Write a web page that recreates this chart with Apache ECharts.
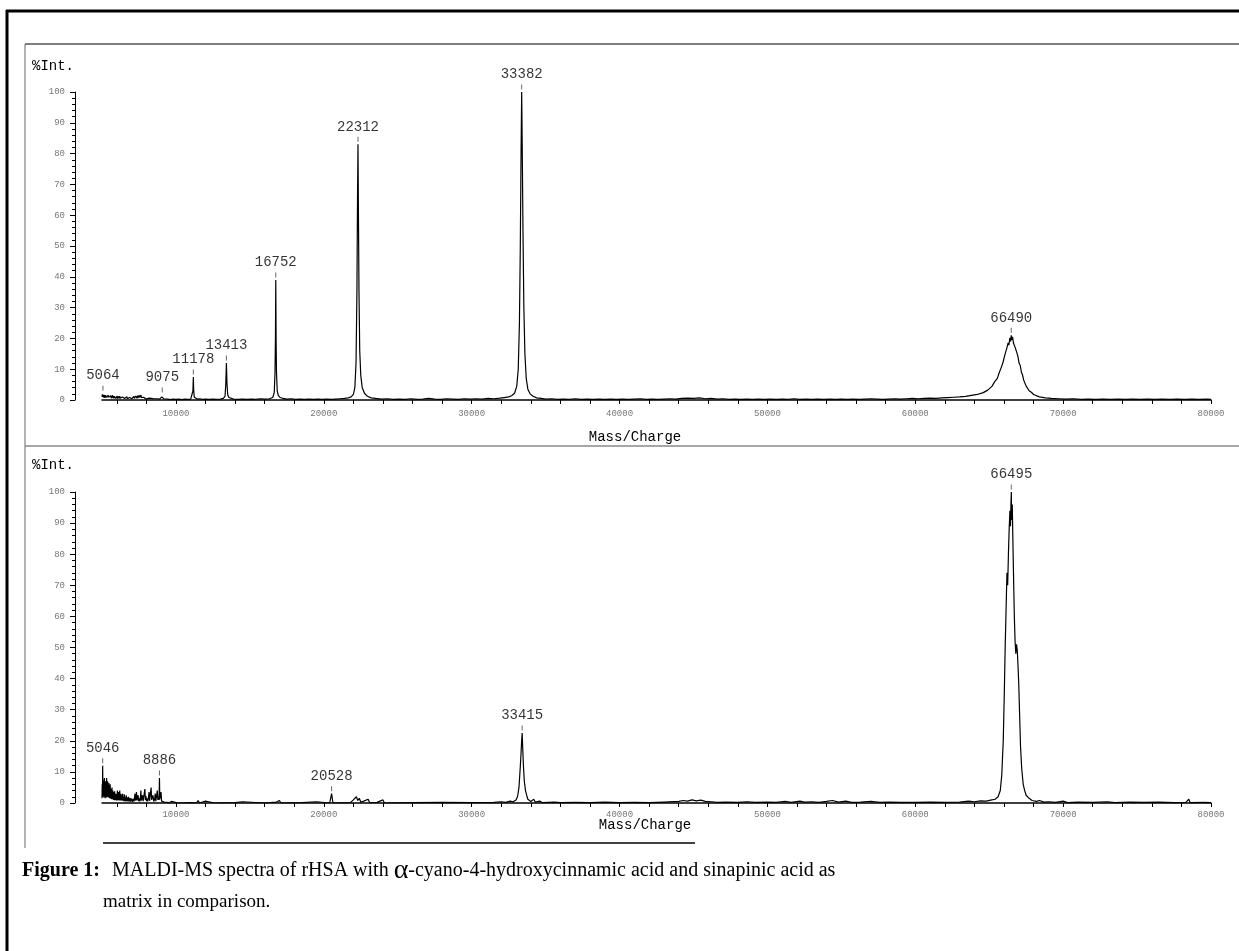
<!DOCTYPE html>
<html>
<head>
<meta charset="utf-8">
<script src="https://cdn.jsdelivr.net/npm/echarts@6/dist/echarts.min.js"></script>
<style>
html,body{margin:0;padding:0;background:#fff;}
#chart{width:1239px;height:951px;}
</style>
</head>
<body>
<div id="chart"></div>
<script>
// ---------------- DATA ----------------
// Top spectrum: alpha-cyano-4-hydroxycinnamic acid matrix  [m/z, %Int]
const topSpectrum = [
[5000,1.0],[5030,1.8],[5064,2.2],[5090,0.9],[5120,1.7],[5150,0.8],[5180,1.6],[5210,0.7],[5240,1.5],[5270,0.9],[5300,1.8],[5330,0.8],[5360,1.4],[5390,0.6],[5420,1.6],[5450,0.9],[5480,1.3],[5510,0.5],[5540,1.5],[5570,0.8],[5600,1.4],[5630,0.6],[5660,1.2],[5690,0.7],[5720,1.5],[5750,0.6],[5780,1.3],[5810,0.5],[5840,1.2],[5870,0.7],[5900,1.4],[5930,0.5],[5960,1.1],[5990,0.6],[6020,1.3],[6050,0.4],[6080,1.2],[6110,0.6],[6140,1.0],[6170,0.5],[6200,1.3],[6230,0.6],[6260,1.1],[6290,0.4],[6320,1.2],[6350,0.7],[6380,1.0],[6410,0.4],[6440,1.1],[6470,0.6],[6500,1.2],[6530,0.5],[6560,0.9],[6590,0.4],[6620,1.0],[6650,0.6],[6680,1.1],[6710,0.4],[6740,0.9],[6770,0.5],[6800,1.0],[6830,0.4],[6860,0.8],[6890,0.5],[6920,1.1],[6950,0.6],[6980,0.9],[7010,0.4],[7040,1.0],[7070,0.5],[7100,0.9],[7130,0.6],[7160,1.2],[7190,0.5],[7220,1.0],[7250,0.6],[7280,1.3],[7310,0.7],[7340,1.1],[7370,0.6],[7400,1.4],[7430,0.7],[7460,1.2],[7490,0.6],[7520,1.5],[7550,0.8],[7580,1.3],[7610,0.7],[7640,1.6],[7670,0.8],[7700,1.2],[7730,0.6],[7760,1.1],[7790,0.5],[7820,0.9],[7850,0.4],[7880,0.8],[7910,0.4],[7940,0.7],[7970,0.3],[8000,0.6],[8100,0.3],[8180,0.6],[8260,0.3],[8340,0.5],[8420,0.2],[8500,0.4],[8600,0.2],[8700,0.4],[8800,0.2],[8900,0.3],[9000,0.6],[9040,1.0],[9075,1.6],[9110,0.8],[9180,0.4],[9300,0.2],[9450,0.3],[9600,0.1],[9800,0.3],[10000,0.2],[10200,0.3],[10400,0.1],[10600,0.3],[10800,0.2],[11000,0.3],[11120,0.6],[11150,3.0],[11178,7.5],[11200,3.2],[11240,0.9],[11320,0.5],[11450,0.3],[11600,0.4],[11800,0.2],[12000,0.3],[12250,0.2],[12500,0.3],[12750,0.2],[13000,0.3],[13200,0.5],[13320,1.2],[13370,5.0],[13413,12.0],[13450,5.5],[13500,1.8],[13580,0.8],[13700,0.5],[13900,0.3],[14200,0.2],[14500,0.3],[14800,0.2],[15100,0.3],[15400,0.2],[15700,0.4],[16000,0.3],[16300,0.4],[16550,0.8],[16650,2.5],[16700,9.0],[16730,20.0],[16752,39.0],[16775,19.0],[16800,9.0],[16850,3.0],[16920,1.5],[17050,0.8],[17250,0.5],[17500,0.3],[17800,0.4],[18100,0.2],[18400,0.3],[18700,0.2],[19000,0.3],[19300,0.2],[19600,0.3],[19900,0.2],[20200,0.3],[20500,0.2],[20800,0.3],[21100,0.4],[21400,0.5],[21650,0.7],[21850,1.0],[22000,1.8],[22100,4.0],[22180,12.0],[22240,35.0],[22280,65.0],[22312,83.0],[22340,62.0],[22380,35.0],[22430,16.0],[22500,8.0],[22600,4.0],[22750,2.2],[22950,1.2],[23200,0.7],[23500,0.5],[23900,0.3],[24300,0.4],[24700,0.2],[25100,0.3],[25500,0.2],[25900,0.4],[26300,0.2],[26700,0.3],[27100,0.5],[27500,0.3],[27900,0.2],[28300,0.4],[28700,0.3],[29100,0.2],[29500,0.4],[29900,0.3],[30300,0.4],[30700,0.3],[31100,0.5],[31500,0.4],[31900,0.6],[32200,0.8],[32500,1.0],[32700,1.4],[32900,2.2],[33050,4.5],[33150,10.0],[33230,25.0],[33290,50.0],[33340,80.0],[33382,100.0],[33420,82.0],[33470,55.0],[33530,30.0],[33600,15.0],[33690,7.0],[33800,3.5],[33950,2.0],[34150,1.2],[34400,0.7],[34700,0.5],[35000,0.3],[35400,0.4],[35800,0.2],[36200,0.3],[36600,0.2],[37000,0.4],[37400,0.2],[37800,0.3],[38200,0.2],[38600,0.3],[39000,0.2],[39400,0.3],[39800,0.2],[40200,0.3],[40600,0.2],[41000,0.3],[41400,0.4],[41800,0.2],[42200,0.3],[42600,0.2],[43000,0.3],[43400,0.4],[43800,0.3],[44200,0.5],[44600,0.6],[45000,0.5],[45400,0.7],[45800,0.4],[46200,0.5],[46600,0.3],[47000,0.4],[47400,0.2],[47800,0.3],[48200,0.2],[48600,0.3],[49000,0.2],[49400,0.3],[49800,0.2],[50200,0.3],[50600,0.2],[51000,0.3],[51400,0.2],[51800,0.4],[52200,0.2],[52600,0.3],[53000,0.2],[53400,0.3],[53800,0.2],[54200,0.3],[54600,0.2],[55000,0.3],[55400,0.2],[55800,0.3],[56200,0.2],[56600,0.3],[57000,0.4],[57400,0.3],[57800,0.2],[58200,0.3],[58600,0.4],[59000,0.3],[59400,0.4],[59800,0.5],[60200,0.4],[60600,0.5],[61000,0.6],[61400,0.5],[61800,0.7],[62200,0.8],[62600,0.9],[63000,1.0],[63400,1.2],[63800,1.5],[64200,1.8],[64600,2.4],[64900,3.2],[65200,4.5],[65350,5.8],[65450,5.2],[65550,7.0],[65650,8.5],[65750,8.0],[65850,11.0],[65950,12.5],[66050,14.5],[66120,14.0],[66200,17.0],[66280,18.5],[66330,17.8],[66400,20.2],[66450,19.0],[66490,21.0],[66530,19.5],[66580,20.5],[66640,18.5],[66700,19.0],[66760,17.0],[66820,16.5],[66880,15.2],[66950,14.0],[67020,12.0],[67100,11.2],[67180,9.0],[67250,8.2],[67330,6.5],[67400,6.0],[67500,4.5],[67600,4.2],[67700,3.0],[67850,2.5],[68000,1.8],[68100,1.7],[68400,1.0],[68800,0.7],[69200,0.5],[69700,0.4],[70200,0.3],[70700,0.4],[71200,0.2],[71700,0.3],[72200,0.2],[72700,0.3],[73200,0.2],[73700,0.3],[74200,0.2],[74700,0.3],[75200,0.2],[75700,0.3],[76200,0.2],[76700,0.3],[77200,0.2],[77700,0.3],[78200,0.2],[78700,0.3],[79200,0.2],[79700,0.3],[80000,0.2]
];
// Bottom spectrum: sinapinic acid matrix  [m/z, %Int]
const bottomSpectrum = [
[5000,1.5],[5015,6.0],[5030,2.0],[5046,12.0],[5060,3.0],[5075,7.5],[5090,2.5],[5105,6.5],[5120,1.8],[5135,5.0],[5150,2.2],[5165,8.0],[5180,3.0],[5195,6.0],[5210,1.5],[5225,5.5],[5240,2.5],[5255,7.0],[5270,2.0],[5285,4.5],[5300,1.8],[5315,8.0],[5330,3.0],[5345,6.0],[5360,2.0],[5375,7.0],[5390,2.5],[5405,5.0],[5420,1.8],[5435,4.0],[5450,2.0],[5465,6.5],[5480,2.5],[5495,5.0],[5510,1.5],[5525,4.5],[5540,2.0],[5555,6.0],[5570,2.2],[5585,3.5],[5600,1.4],[5615,4.5],[5630,1.8],[5645,3.0],[5660,1.2],[5675,5.0],[5690,1.8],[5705,3.5],[5720,1.2],[5735,4.0],[5750,1.5],[5765,3.0],[5780,1.0],[5795,3.5],[5810,1.2],[5825,2.5],[5840,0.9],[5855,3.8],[5870,1.3],[5885,2.8],[5900,1.0],[5915,3.0],[5930,1.1],[5945,2.2],[5960,0.8],[5975,2.8],[5990,1.0],[6005,3.0],[6020,0.8],[6040,4.0],[6060,1.2],[6080,3.0],[6100,0.9],[6120,3.5],[6140,1.0],[6160,2.5],[6180,0.8],[6200,4.0],[6220,1.0],[6240,2.5],[6260,0.8],[6280,3.0],[6300,0.9],[6330,2.5],[6360,0.7],[6390,3.0],[6420,0.8],[6450,2.0],[6480,0.6],[6510,2.8],[6540,0.6],[6570,1.8],[6600,0.5],[6640,2.5],[6680,0.6],[6720,1.8],[6760,0.5],[6800,2.0],[6840,0.5],[6880,1.5],[6920,0.4],[6960,1.6],[7000,0.5],[7040,1.2],[7080,0.4],[7120,1.4],[7160,0.5],[7200,1.5],[7230,3.0],[7260,0.8],[7300,1.6],[7330,3.5],[7360,0.8],[7400,1.2],[7440,2.5],[7480,0.6],[7520,1.5],[7560,0.5],[7600,2.0],[7630,4.0],[7660,0.8],[7700,1.5],[7740,2.5],[7780,0.6],[7820,1.2],[7860,0.5],[7900,4.5],[7930,1.0],[7970,2.2],[8010,0.6],[8050,1.5],[8090,0.5],[8140,1.6],[8180,3.5],[8220,0.7],[8260,1.2],[8320,5.0],[8360,1.0],[8400,1.8],[8450,2.5],[8500,0.5],[8560,1.2],[8600,3.0],[8640,0.6],[8700,1.2],[8740,4.0],[8780,1.0],[8830,2.0],[8860,1.0],[8886,8.0],[8910,1.2],[8950,0.8],[8990,3.5],[9030,0.6],[9080,1.0],[9120,0.3],[9200,0.3],[9300,0.8],[9380,0.2],[9480,0.7],[9560,0.1],[9700,0.5],[9800,0.1],[9950,0.2],[10100,0.0],[10500,0.0],[11000,0.1],[11400,0.0],[11500,0.8],[11600,0.0],[12000,0.6],[12100,0.0],[12600,0.0],[14000,0.1],[14500,0.4],[14600,0.0],[16000,0.0],[16800,0.3],[17000,0.8],[17100,0.0],[18500,0.1],[19500,0.4],[19600,0.0],[20400,0.0],[20528,3.0],[20620,0.0],[21800,0.1],[22000,1.0],[22100,0.4],[22200,2.0],[22300,0.8],[22400,1.5],[22500,0.3],[22700,0.6],[22800,0.1],[23000,1.2],[23100,0.1],[23600,0.2],[24000,1.0],[24100,0.0],[26000,0.1],[28000,0.2],[30000,0.1],[31500,0.2],[32000,0.4],[32300,0.2],[32600,0.6],[32800,0.4],[33000,1.0],[33100,2.0],[33200,5.0],[33280,11.0],[33340,16.0],[33380,20.0],[33415,22.5],[33450,18.0],[33500,12.0],[33560,7.0],[33640,4.0],[33720,2.5],[33800,1.2],[33900,0.8],[34000,0.5],[34200,1.2],[34300,0.3],[34600,0.6],[34800,0.1],[35600,0.3],[36000,0.1],[37000,0.2],[38000,0.1],[39000,0.3],[40000,0.1],[41000,0.2],[42000,0.1],[43000,0.3],[44000,0.5],[44300,0.8],[44600,0.6],[44900,1.0],[45200,0.7],[45500,0.9],[45800,0.5],[46200,0.4],[46600,0.2],[47200,0.3],[48000,0.2],[48600,0.4],[49200,0.2],[50000,0.3],[50600,0.2],[51200,0.5],[51600,0.2],[52200,0.6],[52500,0.3],[53000,0.4],[53500,0.2],[54000,0.5],[54400,0.8],[54800,0.3],[55300,0.6],[55700,0.2],[56300,0.3],[57000,0.5],[57600,0.2],[58200,0.3],[59000,0.2],[60000,0.2],[61000,0.3],[62000,0.2],[63000,0.3],[63600,0.6],[64000,0.4],[64400,0.7],[64800,0.6],[65100,0.9],[65400,1.2],[65600,2.0],[65750,4.0],[65850,9.0],[65950,20.0],[66020,35.0],[66080,50.0],[66140,62.0],[66200,74.0],[66250,70.0],[66300,80.0],[66350,88.0],[66400,94.0],[66440,89.0],[66470,96.0],[66495,100.0],[66520,91.0],[66560,96.0],[66600,85.0],[66650,72.0],[66700,60.0],[66750,52.0],[66800,48.0],[66850,51.0],[66900,49.0],[66950,44.0],[67000,38.0],[67060,28.0],[67120,18.0],[67200,11.0],[67300,6.0],[67400,4.0],[67500,2.5],[67600,3.0],[67700,1.5],[67800,2.0],[67900,0.8],[68000,1.2],[68200,0.5],[68400,0.8],[68700,0.3],[69000,0.4],[69500,0.2],[70000,0.6],[70300,0.1],[71000,0.3],[72000,0.2],[73000,0.4],[73500,0.1],[74500,0.3],[75500,0.2],[76500,0.3],[77500,0.1],[78300,0.2],[78500,1.2],[78600,0.1],[79500,0.2],[80000,0.1]
];
// Labelled peaks [m/z, %Int]
const topPeaks = [[5064,2.2],[9075,1.6],[11178,7.5],[13413,12.0],[16752,39.0],[22312,83.0],[33382,100.0],[66490,21.0]];
const bottomPeaks = [[5046,12.0],[8886,8.0],[20528,3.0],[33415,22.5],[66495,100.0]];
// Axis ticks / labels
const xLabelValues = [10000,20000,30000,40000,50000,60000,70000,80000];
const xTickValues = [6000,8000,10000,12000,14000,16000,18000,20000,22000,24000,26000,28000,30000,32000,34000,36000,38000,40000,42000,44000,46000,48000,50000,52000,54000,56000,58000,60000,62000,64000,66000,68000,70000,72000,74000,76000,78000,80000];
const yAxisTitle = '%Int.';
const xAxisTitle = 'Mass/Charge';
const captionLead = 'Figure 1:';
const captionLine1a = 'MALDI-MS spectra of rHSA with ';
const captionAlpha = 'α';
const captionLine1b = '-cyano-4-hydroxycinnamic acid and sinapinic acid as';
const captionLine2 = 'matrix in comparison.';

// ---------------- CHART ----------------
const MONO = '"Liberation Mono","DejaVu Sans Mono",monospace';
const SERIF = '"Liberation Serif","DejaVu Serif",serif';

function xAxisCfg(gi, labelMargin){
  return {
    gridIndex: gi, type: 'value', min: 5000, max: 80000,
    axisLine: {show: true, onZero: false, lineStyle: {color: '#000', width: 1.5}},
    axisTick: {show: true, customValues: xTickValues, length: 4, lineStyle: {color: '#000', width: 1}},
    axisLabel: {show: true, customValues: xLabelValues, fontSize: 9, color: '#777', margin: labelMargin,
                fontFamily: MONO, formatter: v => String(v)},
    splitLine: {show: false}
  };
}
function yAxisCfg(gi){
  return {
    gridIndex: gi, type: 'value', min: 0, max: 100, interval: 10, position: 'left', offset: 27,
    axisLine: {show: true, lineStyle: {color: '#000', width: 1}},
    axisTick: {show: true, length: 5, lineStyle: {color: '#000'}},
    minorTick: {show: true, splitNumber: 5, length: 3, lineStyle: {color: '#000'}},
    axisLabel: {fontSize: 9, color: '#777', margin: 10, fontFamily: MONO},
    splitLine: {show: false}
  };
}
function lineSeries(gi, data){
  return {type: 'line', xAxisIndex: gi, yAxisIndex: gi, data: data, showSymbol: false, symbol: 'none',
          lineStyle: {color: '#000', width: 1.2}, silent: true, z: 3};
}
function peakSeries(gi, data){
  return {type: 'scatter', xAxisIndex: gi, yAxisIndex: gi, data: data,
          symbol: 'rect', symbolSize: [1, 5], symbolOffset: [0, -5],
          itemStyle: {color: '#444'}, silent: true, z: 4,
          label: {show: true, position: 'top', distance: 3, color: '#000', fontSize: 14, fontFamily: MONO,
                  formatter: p => String(p.value[0])}};
}

const chart = echarts.init(document.getElementById('chart'), null, {renderer: 'canvas'});
chart.setOption({
  animation: false,
  backgroundColor: '#fff',
  grid: [
    {left: 102, width: 1109, top: 92, height: 308},
    {left: 102, width: 1109, top: 492, height: 311}
  ],
  xAxis: [xAxisCfg(0, 9), xAxisCfg(1, 7)],
  yAxis: [yAxisCfg(0), yAxisCfg(1)],
  series: [lineSeries(0, topSpectrum), lineSeries(1, bottomSpectrum), peakSeries(0, topPeaks), peakSeries(1, bottomPeaks)],
  graphic: [
    // outer black frame
    {type: 'line', shape: {x1: 6, y1: 11, x2: 1239, y2: 11}, style: {stroke: '#000', lineWidth: 3}},
    {type: 'line', shape: {x1: 7, y1: 10, x2: 7, y2: 951}, style: {stroke: '#000', lineWidth: 3}},
    // inner panel frame
    {type: 'line', shape: {x1: 25, y1: 44, x2: 1239, y2: 44}, style: {stroke: '#555', lineWidth: 1.5}},
    {type: 'line', shape: {x1: 25, y1: 44, x2: 25, y2: 848}, style: {stroke: '#666', lineWidth: 1}},
    {type: 'line', shape: {x1: 25, y1: 446, x2: 1239, y2: 446}, style: {stroke: '#888', lineWidth: 1.5}},
    {type: 'line', shape: {x1: 103, y1: 843, x2: 695, y2: 843}, style: {stroke: '#000', lineWidth: 1.5}},
    // axis titles
    {type: 'text', left: 32, top: 59, style: {text: yAxisTitle, font: '14px ' + MONO, fill: '#000'}},
    {type: 'text', left: 32, top: 458, style: {text: yAxisTitle, font: '14px ' + MONO, fill: '#000'}},
    {type: 'text', x: 635, y: 437, style: {text: xAxisTitle, font: '14px ' + MONO, fill: '#000', align: 'center', verticalAlign: 'middle'}},
    {type: 'text', x: 645, y: 825, style: {text: xAxisTitle, font: '14px ' + MONO, fill: '#000', align: 'center', verticalAlign: 'middle'}},
    // caption
    {type: 'text', x: 22, y: 871, style: {text: captionLead, font: 'bold 20px ' + SERIF, fill: '#000', verticalAlign: 'middle'}},
    {type: 'text', x: 112, y: 871, style: {
      text: '{a|' + captionLine1a + '}{b|' + captionAlpha + '}{a|' + captionLine1b + '}',
      verticalAlign: 'middle',
      rich: {a: {font: '20px ' + SERIF, fill: '#000'}, b: {font: '28px ' + SERIF, fill: '#000'}}
    }},
    {type: 'text', x: 103, y: 902, style: {text: captionLine2, font: '19px ' + SERIF, fill: '#000', verticalAlign: 'middle'}}
  ]
});
</script>
</body>
</html>
